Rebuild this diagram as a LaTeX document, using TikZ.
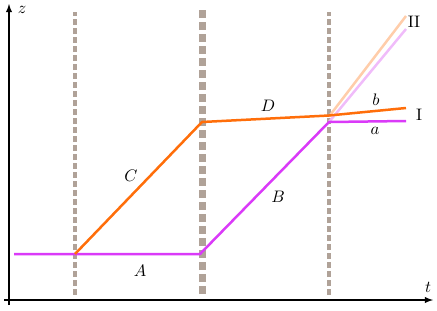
\documentclass[tikz,border=0pt]{standalone}
\definecolor{dashgray}{RGB}{176,162,152}
\definecolor{curveorange}{RGB}{255,110,10}
\definecolor{curvemagenta}{RGB}{218,58,248}
\definecolor{paleorange}{RGB}{255,205,170}
\definecolor{palemagenta}{RGB}{240,188,250}
\tikzset{
  axisline/.style={line width=0.7pt,-latex},
  boundary/.style={dashgray,line width=2.4pt,dash pattern=on 3.6pt off 1.8pt},
  mainboundary/.style={dashgray,line width=4.2pt,dash pattern=on 4.8pt off 2.4pt},
  curve/.style={line width=1.5pt,line join=round}
}
\begin{document}
\begin{tikzpicture}[x=0.6pt,y=0.6pt]
    \useasboundingbox (0,0) rectangle (437,310);

    % axes
    \draw[axisline] (9,5) -- (9,306);
    \draw[axisline] (4,10) -- (433,10);
    \node (zlabel) at (22,300) {\(z\)};
    \node (tlabel) at (428,23) {\(t\)};

    % vertical boundaries
    \foreach \x in {75,329}{
      \draw[boundary] (\x,15) -- (\x,298);
    }
    \draw[mainboundary] (202,16) -- (202,300);

    % pale continuations
    \draw[curve,palemagenta] (329,188) -- (406,281);
    \draw[curve,paleorange] (329,193.5) -- (406,294);

    % curves
    \draw[curve,curvemagenta] (14,56) -- (200,56) -- (329,188) -- (406,189);
    \draw[curve,curveorange] (75,56) -- (202,188) -- (329,194.5) -- (406,202);

    % labels
    \node (A) at (140,39) {\(A\)};
    \node (B) at (278,113) {\(B\)};
    \node (C) at (131,134) {\(C\)};
    \node (D) at (268,204) {\(D\)};
    \node (a) at (375,179) {\(a\)};
    \node (b) at (376,210) {\(b\)};
    \node (I) at (419,195) {I};
    \node (II) at (414,288) {II};
\end{tikzpicture}
\end{document}
